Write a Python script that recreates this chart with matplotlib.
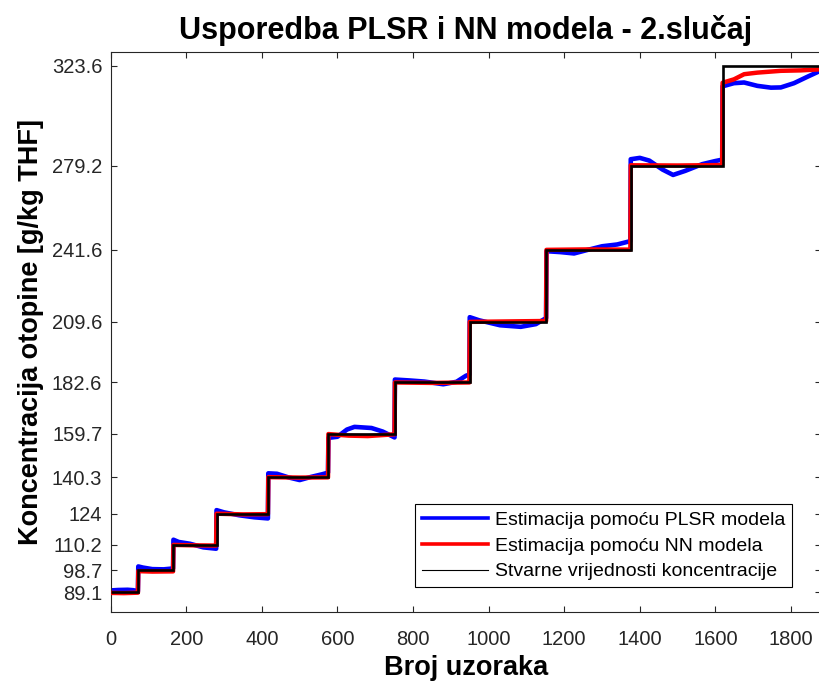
import numpy as np
import matplotlib.pyplot as plt
from matplotlib.lines import Line2D

plt.rcParams['font.family'] = ['Liberation Sans', 'DejaVu Sans']

# stvarne vrijednosti: granice segmenata (broj uzorka) i razine koncentracije
step_edges = [0, 73, 166, 280, 417, 576, 752, 950, 1153, 1376, 1619, 1880]
true_levels = [89.1, 98.7, 110.2, 124.0, 140.3, 159.7, 182.6, 209.6, 241.6, 279.2, 323.6]

# estimacija PLSR modelom
plsr_x = [0, 20, 45, 60, 72,
          73, 85, 110, 140, 165,
          166, 180, 210, 245, 279,
          280, 300, 340, 380, 416,
          417, 440, 470, 500, 530, 560, 575,
          576, 600, 625, 645, 690, 720, 751,
          752, 790, 830, 880, 915, 940, 949,
          950, 975, 1030, 1085, 1125, 1152,
          1153, 1190, 1226, 1260, 1300, 1340, 1375,
          1376, 1400, 1425, 1460, 1488, 1520, 1565, 1600, 1618,
          1619, 1649, 1676, 1711, 1747, 1773, 1808, 1844, 1880]
plsr_y = [89.8, 90.0, 90.1, 89.9, 89.4,
          100.5, 100.0, 99.3, 99.2, 99.6,
          112.4, 111.4, 110.6, 109.0, 108.4,
          125.6, 124.6, 123.3, 122.4, 121.9,
          142.0, 141.8, 140.2, 139.0, 140.4, 141.6, 142.3,
          157.8, 158.3, 161.5, 162.7, 162.2, 160.6, 158.0,
          183.8, 183.4, 182.9, 181.7, 182.8, 185.5, 186.0,
          211.6, 210.2, 208.0, 207.3, 208.5, 211.2,
          241.0, 240.6, 240.0, 241.5, 243.2, 244.0, 245.5,
          282.0, 282.6, 281.4, 277.4, 275.0, 276.8, 279.8, 281.2, 281.8,
          314.5, 315.9, 316.2, 314.7, 313.9, 314.0, 315.9, 318.8, 321.6]

# estimacija NN modelom
nn_x = [0, 35, 72,
        73, 110, 165,
        166, 220, 279,
        280, 350, 416,
        417, 500, 575,
        576, 630, 680, 751,
        752, 850, 949,
        950, 1050, 1152,
        1153, 1260, 1375,
        1376, 1500, 1618,
        1619, 1649, 1676, 1711, 1773, 1826, 1880]
nn_y = [88.7, 88.6, 88.8,
        98.4, 98.2, 98.3,
        110.1, 109.9, 109.8,
        124.0, 123.7, 123.8,
        140.3, 140.1, 140.2,
        159.5, 158.8, 158.6, 159.4,
        182.5, 182.3, 182.5,
        209.5, 209.7, 209.9,
        241.6, 241.8, 241.7,
        279.3, 279.2, 279.4,
        316.1, 317.6, 319.9, 320.6, 321.4, 321.6, 322.1]

yticks = [89.1, 98.7, 110.2, 124, 140.3, 159.7, 182.6, 209.6, 241.6, 279.2, 323.6]
ytick_labels = ['89.1', '98.7', '110.2', '124', '140.3', '159.7', '182.6',
                '209.6', '241.6', '279.2', '323.6']

fig = plt.figure(figsize=(8.2, 6.84), dpi=100)
ax = fig.add_axes([0.135, 0.1053, 0.8665, 0.8187])

ax.plot(plsr_x, plsr_y, color='#0000ff', lw=3.3, zorder=2)
ax.plot(nn_x, nn_y, color='#ff0000', lw=3.2, zorder=3)
ax.stairs(true_levels, edges=step_edges, color='black', lw=1.9, baseline=None, zorder=4)

ax.set_xlim(0, 1880)
ax.set_ylim(80.2, 329.8)
ax.set_xticks(np.arange(0, 1801, 200))
ax.set_yticks(yticks)
ax.set_yticklabels(ytick_labels)

gray = '#262626'
for s in ax.spines.values():
    s.set_color(gray)
    s.set_linewidth(0.8)
ax.tick_params(direction='in', length=4, width=0.8, color=gray, labelcolor=gray,
               labelsize=14.5, top=True, right=True)
ax.tick_params(axis='x', pad=13)
ax.tick_params(axis='y', pad=6)

ax.set_title('Usporedba PLSR i NN modela - 2.slučaj', fontsize=22, fontweight='bold', pad=9)
ax.set_xlabel('Broj uzoraka', fontsize=19.5, fontweight='bold', labelpad=4)
ax.set_ylabel('Koncentracija otopine [g/kg THF]', fontsize=19.5, fontweight='bold', labelpad=6)

handles = [Line2D([], [], color='#0000ff', lw=2.6),
           Line2D([], [], color='#ff0000', lw=2.6),
           Line2D([], [], color='black', lw=0.8)]
labels = ['Estimacija pomoću PLSR modela',
          'Estimacija pomoću NN modela',
          'Stvarne vrijednosti koncentracije']
leg = ax.legend(handles, labels, loc='lower right', bbox_to_anchor=(0.959, 0.044),
                borderaxespad=0, fontsize=14, handlelength=3.4, handletextpad=0.35,
                labelspacing=0.42, borderpad=0.36, fancybox=False, framealpha=1)
leg.get_frame().set_edgecolor('black')
leg.get_frame().set_linewidth(0.8)

fig.savefig('out.png', dpi=100)
